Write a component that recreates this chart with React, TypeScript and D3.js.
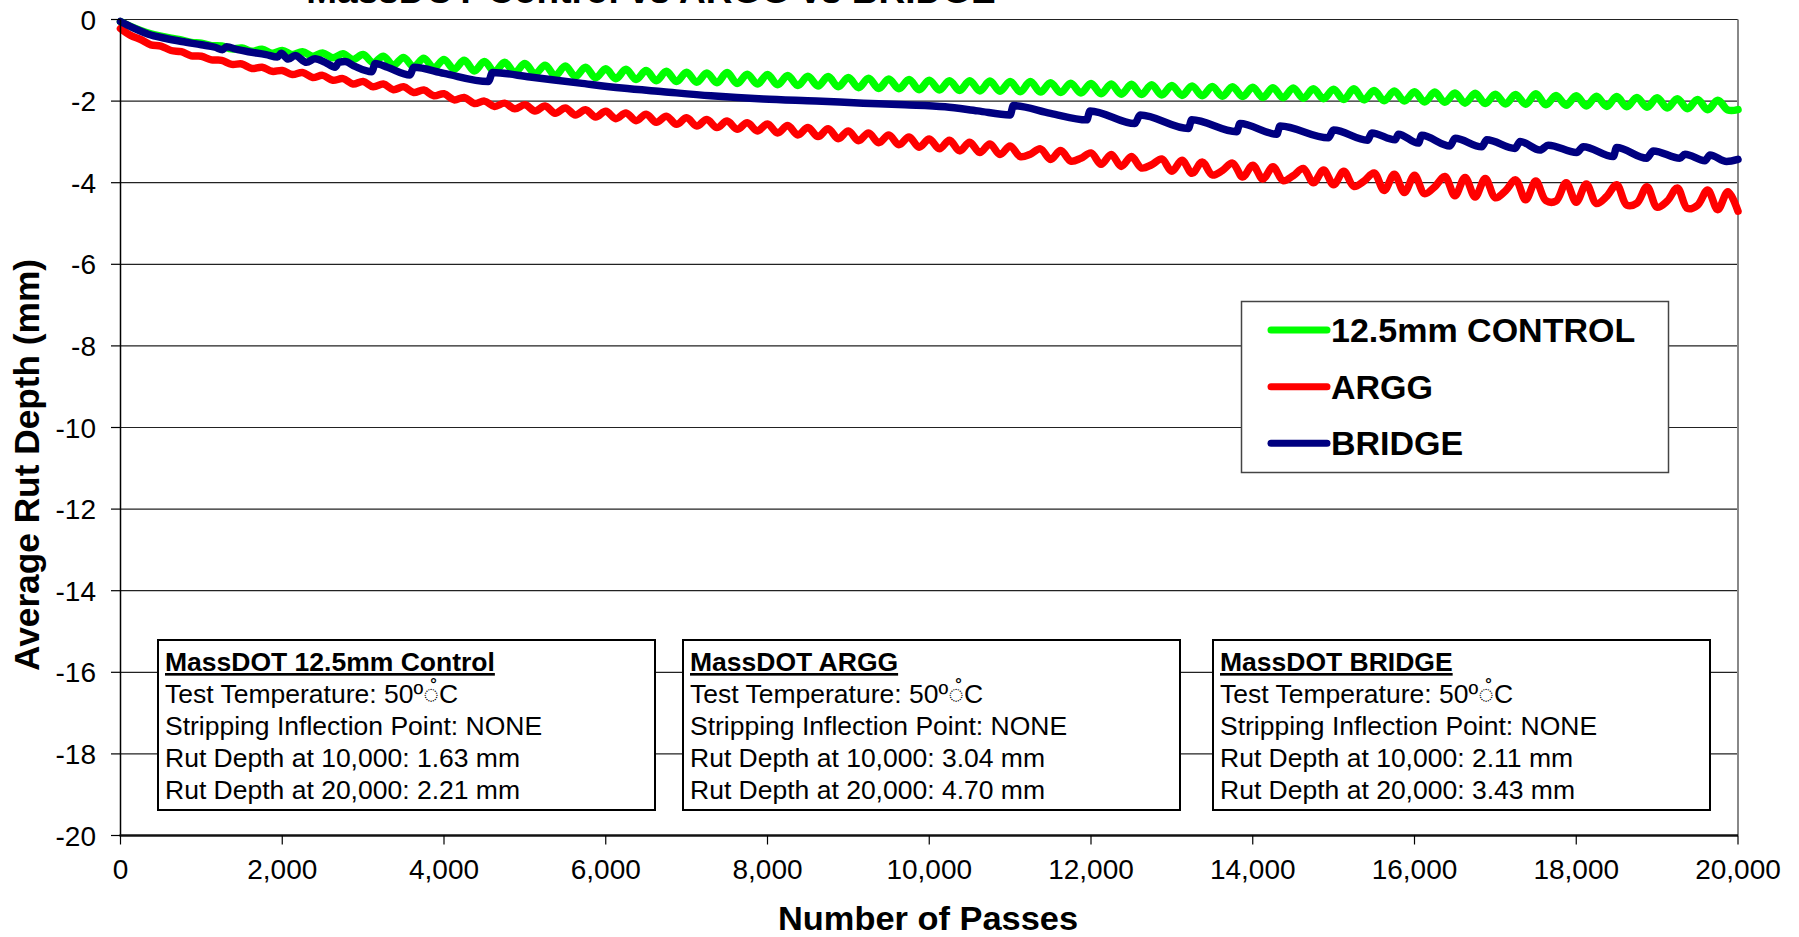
import React from "react";
import * as d3 from "d3";

const TITLE = "MassDOT Control vs ARGG vs BRIDGE";
const X_LABEL = "Number of Passes";
const Y_LABEL = "Average Rut Depth  (mm)";
const X_TICKS = [0, 2000, 4000, 6000, 8000, 10000, 12000, 14000, 16000, 18000, 20000];
const Y_TICKS = [0, -2, -4, -6, -8, -10, -12, -14, -16, -18, -20];
const SERIES_NAMES = ["12.5mm CONTROL", "ARGG", "BRIDGE"];
const SERIES_COLORS = ["#00FF00", "#FF0000", "#000080"];

// control and ARGG sampled every 125 passes
const SAMPLE_STEP = 125;

const CONTROL_DEPTH = [
  -0.05, -0.17, -0.27, -0.35, -0.41, -0.46, -0.50, -0.56,
  -0.58, -0.64, -0.65, -0.72, -0.70, -0.78, -0.73, -0.83,
  -0.76, -0.86, -0.79, -0.90, -0.82, -0.94, -0.84, -0.98,
  -0.86, -1.06, -0.90, -1.12, -0.93, -1.16, -0.95, -1.19,
  -0.98, -1.22, -1.00, -1.26, -1.03, -1.28, -1.05, -1.30,
  -1.08, -1.33, -1.12, -1.38, -1.14, -1.40, -1.17, -1.43,
  -1.21, -1.45, -1.22, -1.47, -1.25, -1.50, -1.27, -1.52,
  -1.29, -1.54, -1.31, -1.55, -1.30, -1.57, -1.34, -1.58,
  -1.35, -1.60, -1.37, -1.62, -1.39, -1.63, -1.40, -1.65,
  -1.42, -1.67, -1.44, -1.69, -1.46, -1.70, -1.47, -1.72,
  -1.49, -1.73, -1.50, -1.74, -1.50, -1.75, -1.51, -1.76,
  -1.52, -1.77, -1.52, -1.78, -1.55, -1.79, -1.56, -1.80,
  -1.57, -1.82, -1.58, -1.83, -1.59, -1.84, -1.60, -1.85,
  -1.62, -1.86, -1.63, -1.87, -1.64, -1.88, -1.65, -1.89,
  -1.66, -1.91, -1.67, -1.92, -1.68, -1.93, -1.70, -1.94,
  -1.71, -1.96, -1.70, -1.97, -1.74, -1.99, -1.75, -2.00,
  -1.77, -2.02, -1.78, -2.03, -1.80, -2.05, -1.81, -2.06,
  -1.83, -2.07, -1.84, -2.08, -1.82, -2.09, -1.86, -2.10,
  -1.87, -2.12, -1.88, -2.13, -1.89, -2.14, -1.91, -2.15,
  -1.92, -2.17, -1.94, -2.19, -1.96, -2.21, -1.98, -2.22,
  -2.21,
];

const ARGG_DEPTH = [
  -0.22, -0.39, -0.49, -0.62, -0.65, -0.76, -0.79, -0.89,
  -0.90, -0.99, -1.00, -1.10, -1.09, -1.20, -1.17, -1.27,
  -1.25, -1.35, -1.30, -1.42, -1.37, -1.49, -1.45, -1.58,
  -1.52, -1.65, -1.58, -1.72, -1.65, -1.79, -1.73, -1.87,
  -1.82, -1.97, -1.91, -2.06, -2.00, -2.13, -2.05, -2.19,
  -2.09, -2.24, -2.12, -2.30, -2.17, -2.34, -2.21, -2.39,
  -2.25, -2.43, -2.29, -2.48, -2.32, -2.52, -2.37, -2.57,
  -2.41, -2.61, -2.45, -2.65, -2.49, -2.69, -2.53, -2.73,
  -2.56, -2.78, -2.60, -2.83, -2.65, -2.87, -2.68, -2.92,
  -2.73, -2.97, -2.78, -3.02, -2.83, -3.07, -2.88, -3.13,
  -2.93, -3.17, -2.96, -3.22, -3.01, -3.26, -3.05, -3.31,
  -3.10, -3.36, -3.30, -3.17, -3.43, -3.21, -3.47, -3.40,
  -3.27, -3.55, -3.31, -3.60, -3.36, -3.64, -3.56, -3.42,
  -3.72, -3.45, -3.77, -3.49, -3.81, -3.70, -3.52, -3.86,
  -3.57, -3.91, -3.61, -3.95, -3.83, -3.65, -4.00, -3.69,
  -4.05, -3.72, -4.09, -3.96, -3.76, -4.19, -3.79, -4.24,
  -3.82, -4.27, -4.10, -3.85, -4.32, -3.87, -4.35, -3.90,
  -4.37, -4.20, -3.93, -4.42, -3.96, -4.44, -4.45, -4.00,
  -4.48, -4.03, -4.51, -4.34, -4.05, -4.55, -4.50, -4.10,
  -4.60, -4.45, -4.13, -4.63, -4.55, -4.18, -4.66, -4.22,
  -4.70,
];

const BRIDGE_PASSES = [
  0, 150, 344, 550, 757, 1000, 1169, 1260, 1310, 1450,
  1581, 1800, 1940, 1985, 2075, 2158, 2300, 2405, 2530, 2653,
  2700, 2776, 2900, 3106, 3150, 3300, 3580, 3625, 4000, 4548,
  4600, 5063, 5682, 6200, 6711, 7300, 7948, 8600, 9184, 9700,
  10195, 10600, 10999, 11040, 11500, 11947, 11988, 12544, 12606, 13204,
  13245, 13801, 13842, 14297, 14338, 14935, 14997, 15420, 15471, 15760,
  15801, 16048, 16089, 16439, 16501, 16831, 16893, 17243, 17305, 17552,
  17655, 18005, 18087, 18458, 18499, 18870, 18953, 19282, 19344, 19591,
  19653, 19859, 20000,
];
const BRIDGE_DEPTH = [
  -0.05, -0.20, -0.36, -0.46, -0.54, -0.62, -0.68, -0.74, -0.67, -0.74,
  -0.79, -0.86, -0.92, -0.83, -0.97, -0.88, -1.05, -0.96, -1.05, -1.17,
  -1.05, -1.03, -1.15, -1.28, -1.08, -1.17, -1.36, -1.17, -1.32, -1.52,
  -1.30, -1.41, -1.56, -1.68, -1.77, -1.87, -1.95, -2.00, -2.05, -2.09,
  -2.14, -2.24, -2.34, -2.11, -2.30, -2.46, -2.24, -2.55, -2.34, -2.67,
  -2.46, -2.75, -2.55, -2.81, -2.61, -2.90, -2.71, -2.96, -2.78, -2.95,
  -2.81, -3.03, -2.84, -3.10, -2.91, -3.12, -2.95, -3.16, -2.99, -3.20,
  -3.08, -3.26, -3.12, -3.36, -3.14, -3.40, -3.22, -3.40, -3.30, -3.46,
  -3.32, -3.48, -3.43,
];

const BOX_TITLES = ["MassDOT 12.5mm Control", "MassDOT ARGG", "MassDOT BRIDGE"];
const BOX_TEMPERATURE = "Test Temperature: 50º\u25CC\u030AC";
const BOX_INFLECTION = "Stripping Inflection Point: NONE";
const RUT_10000 = ["1.63", "3.04", "2.11"];
const RUT_20000 = ["2.21", "4.70", "3.43"];

const FONT = "'Liberation Sans', Arial, Helvetica, sans-serif";

export default function App() {
  const W = 1799;
  const H = 937;
  const x = d3.scaleLinear().domain([0, 20000]).range([120.5, 1738]);
  const y = d3.scaleLinear().domain([-20, 0]).range([835.5, 19.5]);

  const controlPts: [number, number][] = CONTROL_DEPTH.map((v, i) => [i * SAMPLE_STEP, v]);
  const arggPts: [number, number][] = ARGG_DEPTH.map((v, i) => [i * SAMPLE_STEP, v]);
  const bridgePts: [number, number][] = BRIDGE_PASSES.map((p, i) => [p, BRIDGE_DEPTH[i]]);

  const wavy = d3
    .line<[number, number]>()
    .x((d) => x(d[0]))
    .y((d) => y(d[1]))
    .curve(d3.curveCatmullRom.alpha(0.5));
  const stepped = d3
    .line<[number, number]>()
    .x((d) => x(d[0]))
    .y((d) => y(d[1]))
    .curve(d3.curveMonotoneX);

  const series = [
    { d: wavy(controlPts), color: SERIES_COLORS[0] },
    { d: wavy(arggPts), color: SERIES_COLORS[1] },
    { d: stepped(bridgePts), color: SERIES_COLORS[2] },
  ];

  const x0 = x(0);
  const x1 = x(20000);
  const yTop = y(0);
  const yBot = y(-20);

  const boxLefts = [158, 683, 1213];
  const boxW = 497;
  const boxTop = 640;
  const boxH = 170;

  const legendX = 1241.5;
  const legendY = 301.5;
  const legendRows = [330, 386.7, 443.3];

  return (
    <svg
      width={W}
      height={H}
      viewBox={`0 0 ${W} ${H}`}
      style={{ position: "fixed", left: 0, top: 0, display: "block", background: "#fff" }}
      fontFamily={FONT}
    >
      <rect x={0} y={0} width={W} height={H} fill="#fff" />

      {/* gridlines */}
      {Y_TICKS.filter((t) => t !== -20).map((t) => (
        <line key={`g${t}`} x1={x0} x2={x1} y1={y(t)} y2={y(t)} stroke="#222" strokeWidth={1.2} />
      ))}

      {/* right border */}
      <line x1={x1} x2={x1} y1={yTop} y2={yBot} stroke="#888" strokeWidth={2} />

      {/* series */}
      {series.map((s, i) => (
        <path
          key={i}
          d={s.d || ""}
          fill="none"
          stroke={s.color}
          strokeWidth={7.5}
          strokeLinejoin="round"
          strokeLinecap="round"
        />
      ))}

      {/* axes */}
      <line x1={x0} x2={x0} y1={yTop} y2={yBot} stroke="#000" strokeWidth={1.5} />
      <line x1={x0 - 1} x2={x1} y1={yBot} y2={yBot} stroke="#111" strokeWidth={2.5} />

      {Y_TICKS.map((t) => (
        <g key={`yt${t}`}>
          <line x1={x0 - 9.5} x2={x0} y1={y(t)} y2={y(t)} stroke="#000" strokeWidth={1.2} />
          <text x={96} y={y(t) + 10} textAnchor="end" fontSize={28} fill="#000">
            {t}
          </text>
        </g>
      ))}
      {X_TICKS.map((t) => (
        <g key={`xt${t}`}>
          <line x1={x(t)} x2={x(t)} y1={yBot} y2={yBot + 9} stroke="#000" strokeWidth={1.2} />
          <text x={x(t)} y={879} textAnchor="middle" fontSize={28} fill="#000">
            {d3.format(",")(t)}
          </text>
        </g>
      ))}

      {/* titles */}
      <text x={651} y={3} textAnchor="middle" fontSize={37} fontWeight="bold" fill="#000">
        {TITLE}
      </text>
      <text
        x={928}
        y={930}
        textAnchor="middle"
        fontSize={34}
        fontWeight="bold"
        fill="#000"
        textLength={300}
        lengthAdjust="spacingAndGlyphs"
      >
        {X_LABEL}
      </text>
      <text
        transform={`translate(39, 465) rotate(-90)`}
        textAnchor="middle"
        fontSize={34.5}
        fontWeight="bold"
        fill="#000"
        textLength={412}
        lengthAdjust="spacingAndGlyphs"
      >
        {Y_LABEL}
      </text>

      {/* legend */}
      <rect x={legendX} y={legendY} width={427} height={171} fill="#fff" stroke="#444" strokeWidth={1.5} />
      {SERIES_NAMES.map((name, i) => (
        <g key={name}>
          <line
            x1={1271}
            x2={1327}
            y1={legendRows[i]}
            y2={legendRows[i]}
            stroke={SERIES_COLORS[i]}
            strokeWidth={7}
            strokeLinecap="round"
          />
          <text x={1331} y={legendRows[i] + 12} fontSize={34} fontWeight="bold" fill="#000">
            {name}
          </text>
        </g>
      ))}

      {/* info boxes */}
      {BOX_TITLES.map((title, i) => {
        const bx = boxLefts[i];
        const tx = bx + 7;
        const lines = [
          BOX_TEMPERATURE,
          BOX_INFLECTION,
          `Rut Depth at 10,000: ${RUT_10000[i]} mm`,
          `Rut Depth at 20,000: ${RUT_20000[i]} mm`,
        ];
        return (
          <g key={title}>
            <rect x={bx} y={boxTop} width={boxW} height={boxH} fill="#fff" stroke="#000" strokeWidth={2} />
            <text
              x={tx}
              y={671}
              fontSize={26.5}
              fontWeight="bold"
              textDecoration="underline"
              fill="#000"
            >
              {title}
            </text>
            {lines.map((ln, j) => (
              <text key={j} x={tx} y={703 + j * 32} fontSize={26.5} fill="#000">
                {ln}
              </text>
            ))}
          </g>
        );
      })}
    </svg>
  );
}
